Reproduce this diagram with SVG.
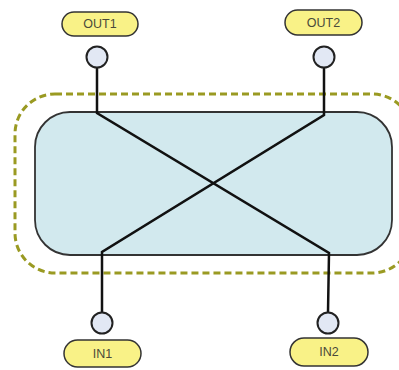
<svg xmlns="http://www.w3.org/2000/svg" width="399" height="370" viewBox="0 0 399 370">
<style>
.pill{fill:#f9f287;stroke:#333;stroke-width:1.5}
.port{fill:#e2e8f4;stroke:#222;stroke-width:2}
.lbl{font-family:"Liberation Sans",Arial,sans-serif;font-size:12.5px;fill:#4a4a3a;text-anchor:middle;dominant-baseline:central}
.wire{fill:none;stroke:#111;stroke-width:2.5;stroke-linejoin:miter}
</style>
<rect x="15" y="94" width="397" height="179" rx="40" ry="40" fill="none" stroke="#9a9a22" stroke-width="3" stroke-dasharray="7,4"/>
<g id="box"><rect x="35" y="112" width="357" height="143" rx="35" ry="35" fill="#d2e9ee" stroke="#333" stroke-width="1.8"/></g>
<g id="connectors">
<polyline class="wire" points="97,68 97,113 329,253 328,312"/>
<polyline class="wire" points="324,68 324,115 102,252 102,312"/>
</g>
<g id="out1"><rect class="pill" x="62" y="12" width="76" height="24" rx="12"/><text class="lbl" x="100" y="24">OUT1</text><circle class="port" cx="97" cy="57" r="10.5"/></g>
<g id="out2"><rect class="pill" x="285" y="10" width="77" height="25" rx="12.5"/><text class="lbl" x="323.5" y="22.5">OUT2</text><circle class="port" cx="324" cy="57" r="10.5"/></g>
<g id="in1"><circle class="port" cx="102" cy="323" r="10.5"/><rect class="pill" x="64" y="340" width="77" height="27" rx="13.5"/><text class="lbl" x="102.5" y="353.5">IN1</text></g>
<g id="in2"><circle class="port" cx="328" cy="323" r="10.5"/><rect class="pill" x="290" y="338" width="78" height="28" rx="14"/><text class="lbl" x="329" y="352">IN2</text></g>
</svg>
